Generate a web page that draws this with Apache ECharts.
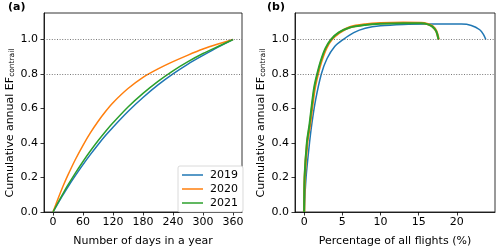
<!DOCTYPE html>
<html><head><meta charset="utf-8">
<script src="https://cdn.jsdelivr.net/npm/echarts@6/dist/echarts.min.js"></script>
<style>html,body{margin:0;padding:0;background:#fff}#c{width:500px;height:252px}</style>
</head><body><div id="c"></div>
<script>
// ---- data ----
const seriesNames = ['2019', '2020', '2021'];
const days = [0,10,20,30,45,60,75,90,105,120,150,180,210,240,270,300,330,360];
const ef2019 = [0,.050,.099,.146,.212,.275,.334,.390,.443,.492,.583,.664,.737,.801,.858,.908,.956,1.0];
const ef2020 = [0,.077,.149,.215,.306,.387,.460,.525,.583,.634,.716,.781,.830,.872,.910,.945,.974,1.0];
const ef2021 = [0,.055,.107,.157,.227,.293,.355,.413,.467,.517,.609,.688,.758,.819,.872,.919,.960,1.0];

const pct2019 = [0,0.25,0.7,1.0,1.5,2.25,3.0,4.0,5.1,6.5,8,10,13,16,20.6,21.9,23.0,23.5,23.8];
const cum2019 = [0,0.2,0.4,0.51,0.65,0.8,0.89,0.96,1.0,1.04,1.065,1.08,1.088,1.09,1.09,1.082,1.057,1.029,1.0];
const pct2020 = [0,0.08,0.4,0.78,1.08,1.4,1.8,2.3,2.9,3.6,4.6,6,8,10,13,15.3,16.2,16.8,17.3,17.62];
const cum2020 = [0,0.2,0.4,0.51,0.62,0.72,0.8,0.88,0.95,1.0,1.04,1.072,1.088,1.095,1.098,1.097,1.09,1.077,1.05,1.0];
const pct2021 = [0,0.05,0.35,0.7,1.0,1.3,1.7,2.2,2.8,3.5,4.5,6,8,10,13,15.3,16.2,16.8,17.3,17.6];
const cum2021 = [0,0.2,0.4,0.51,0.62,0.72,0.8,0.88,0.95,1.0,1.04,1.07,1.085,1.092,1.095,1.094,1.088,1.075,1.048,1.0];

const dayTicks = [0,60,120,180,240,300,360];
const pctTicks = [0,5,10,15,20];
const yTicks = [0,0.2,0.4,0.6,0.8,1.0];
const refLines = [0.8, 1.0];

// ---- chart ----
const colors = ['#1f77b4', '#ff7f0e', '#2ca02c'];
const FONT = 'DejaVu Sans';
const FS = 11;
const zip = (a, b) => a.map((v, i) => [v, b[i]]);
const chart = echarts.init(document.getElementById('c'), null, {renderer: 'canvas'});

function xAxis(idx, min, max, ticks, name) {
  return {
    type: 'value', gridIndex: idx, min: min, max: max,
    name: name, nameLocation: 'middle', nameGap: 24,
    nameTextStyle: {fontFamily: FONT, fontSize: FS, color: '#000'},
    axisLine: {show: true, onZero: false, lineStyle: {color: '#000', width: 0.8}},
    axisTick: {show: true, length: 3.5, customValues: ticks, lineStyle: {color: '#000', width: 0.8}},
    axisLabel: {customValues: ticks, margin: 5, fontFamily: FONT, fontSize: FS, color: '#000'},
    splitLine: {show: false}
  };
}
function yAxis(idx) {
  return {
    type: 'value', gridIndex: idx, min: 0, max: 1.154,
    axisLine: {show: true, onZero: false, lineStyle: {color: '#000', width: 0.8}},
    axisTick: {show: true, length: 3.5, customValues: yTicks, lineStyle: {color: '#000', width: 0.8}},
    axisLabel: {customValues: yTicks, margin: 6, fontFamily: FONT, fontSize: FS, color: '#000',
      formatter: v => v.toFixed(1)},
    splitLine: {show: false}
  };
}
const markLine = {
  silent: true, symbol: 'none', label: {show: false},
  lineStyle: {color: '#555', width: 0.8, type: [1, 1.6]},
  data: refLines.map(v => ({yAxis: v}))
};
function line(name, data, i, gi, w, ml) {
  const s = {
    name: name, type: 'line', xAxisIndex: gi, yAxisIndex: gi, data: data,
    showSymbol: false, symbol: 'none', smooth: 0.3,
    lineStyle: {color: colors[i], width: w}, itemStyle: {color: colors[i]},
    emphasis: {disabled: true}
  };
  if (ml) s.markLine = markLine;
  return s;
}

const option = {
  animation: false,
  grid: [
    {left: 44, top: 13, width: 198, height: 203, show: true, borderColor: '#000', borderWidth: 0.8, containLabel: false},
    {left: 295, top: 13, width: 200, height: 203, show: true, borderColor: '#000', borderWidth: 0.8, containLabel: false}
  ],
  xAxis: [xAxis(0, -18, 378, dayTicks, 'Number of days in a year'),
          xAxis(1, -1.2, 25.0, pctTicks, 'Percentage of all flights (%)')],
  yAxis: [yAxis(0), yAxis(1)],
  legend: {
    data: seriesNames, orient: 'vertical', left: 178, top: 166,
    padding: [3, 5, 3, 4], itemGap: 2, itemWidth: 21, itemHeight: 1.5, icon: 'rect',
    backgroundColor: '#fff', borderColor: '#d0d0d0', borderWidth: 0.8, borderRadius: 2,
    textStyle: {fontFamily: FONT, fontSize: FS, color: '#000', lineHeight: 12, padding: [0, 0, 0, 2]},
    selectedMode: false
  },
  series: [
    line(seriesNames[0], zip(days, ef2019), 0, 0, 1.5, true),
    line(seriesNames[1], zip(days, ef2020), 1, 0, 1.5, false),
    line(seriesNames[2], zip(days, ef2021), 2, 0, 1.5, false),
    line(seriesNames[0], zip(pct2019, cum2019), 0, 1, 1.5, true),
    line(seriesNames[1], zip(pct2020, cum2020), 1, 1, 2.4, false),
    line(seriesNames[2], zip(pct2021, cum2021), 2, 1, 2.0, false)
  ],
  graphic: [
    {type: 'text', left: 8, top: 2, style: {text: '(a)', font: 'bold 11px "DejaVu Sans"', fill: '#000'}},
    {type: 'text', left: 267, top: 2, style: {text: '(b)', font: 'bold 11px "DejaVu Sans"', fill: '#000'}},
    {type: 'text', x: 10, y: 123, rotation: Math.PI / 2,
      style: {text: '{a|Cumulative annual EF}{b|contrail}', align: 'center', verticalAlign: 'middle',
        rich: {a: {fontFamily: FONT, fontSize: FS, lineHeight: 13, fill: '#000'},
               b: {fontFamily: FONT, fontSize: 7.5, lineHeight: 8, verticalAlign: 'bottom', fill: '#000'}}}},
    {type: 'text', x: 261, y: 123, rotation: Math.PI / 2,
      style: {text: '{a|Cumulative annual EF}{b|contrail}', align: 'center', verticalAlign: 'middle',
        rich: {a: {fontFamily: FONT, fontSize: FS, lineHeight: 13, fill: '#000'},
               b: {fontFamily: FONT, fontSize: 7.5, lineHeight: 8, verticalAlign: 'bottom', fill: '#000'}}}}
  ]
};
chart.setOption(option);
</script></body></html>
